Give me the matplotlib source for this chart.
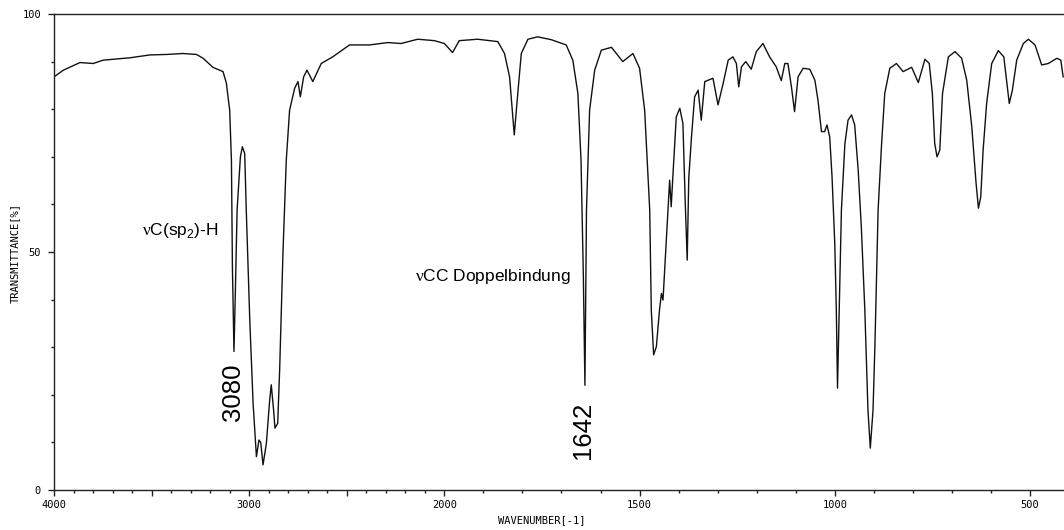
import numpy as np
import matplotlib
matplotlib.use("Agg")
import matplotlib.pyplot as plt

plt.rcParams['font.family'] = ['Liberation Sans', 'DejaVu Sans']
plt.rcParams['mathtext.fontset'] = 'custom'
plt.rcParams['mathtext.rm'] = 'Liberation Serif'
plt.rcParams['mathtext.sf'] = 'Liberation Sans'

# IR spectrum (wavenumber in cm-1, transmittance in %)
wavenumber = [4000, 3952, 3867, 3799, 3749, 3611, 3509, 3424, 3340, 3270,
              3236, 3186, 3134, 3117, 3100, 3091, 3086, 3078, 3071, 3062,
              3045, 3035, 3023, 3015, 2997, 2980, 2963, 2950, 2941, 2929,
              2912, 2895, 2887, 2875, 2868, 2854, 2844, 2827, 2810, 2793,
              2767, 2750, 2738, 2721, 2704, 2674, 2631, 2572, 2486, 2384,
              2290, 2222, 2137, 2051, 2000, 1979, 1962, 1915, 1863, 1846,
              1833, 1821, 1812, 1803, 1786, 1761, 1726, 1688, 1671, 1658,
              1650, 1644, 1640, 1636, 1628, 1615, 1598, 1572, 1543, 1517,
              1500, 1487, 1474, 1470, 1464, 1457, 1449, 1444, 1440, 1432,
              1423, 1419, 1415, 1406, 1397, 1389, 1383, 1378, 1374, 1367,
              1359, 1350, 1342, 1333, 1312, 1299, 1286, 1273, 1261, 1252,
              1246, 1239, 1228, 1214, 1201, 1184, 1167, 1150, 1137, 1128,
              1120, 1111, 1103, 1094, 1081, 1064, 1051, 1043, 1034, 1026,
              1020, 1013, 1007, 1000, 996, 993, 989, 983, 974, 966,
              957, 949, 940, 932, 923, 915, 909, 902, 897, 889,
              880, 872, 859, 842, 825, 803, 786, 769, 758, 750,
              744, 738, 731, 724, 709, 692, 675, 662, 649, 638,
              632, 626, 620, 611, 598, 581, 567, 560, 553, 545,
              534, 517, 504, 487, 470, 453, 431, 421, 415]
transmittance = [86.8, 88.2, 89.8, 89.6, 90.3, 90.8, 91.4, 91.5, 91.7, 91.5,
                 90.7, 88.8, 87.9, 85.5, 79.8, 69.3, 46.9, 29.1, 41.4, 58.8,
                 70.0, 72.1, 70.7, 58.8, 35.7, 18.2, 7.0, 10.5, 10.0, 5.3,
                 9.8, 18.9, 22.1, 16.8, 13.0, 14.0, 25.2, 49.8, 69.3, 79.8,
                 84.4, 85.8, 82.6, 86.8, 88.2, 85.8, 89.6, 91.0, 93.5, 93.5,
                 94.0, 93.8, 94.7, 94.4, 93.8, 91.9, 94.4, 94.7, 94.2, 91.7,
                 86.8, 74.6, 83.3, 91.7, 94.7, 95.2, 94.6, 93.5, 90.3, 83.3,
                 69.3, 44.8, 22.0, 58.8, 79.8, 88.2, 92.4, 93.0, 90.0, 91.7,
                 88.6, 79.8, 58.8, 37.8, 28.4, 30.1, 37.8, 41.3, 39.9, 51.9,
                 65.1, 59.5, 65.5, 78.4, 80.2, 77.0, 60.3, 48.3, 65.5, 74.2,
                 82.6, 84.0, 77.7, 85.8, 86.5, 80.9, 85.4, 90.3, 91.0, 89.6,
                 84.7, 88.9, 90.0, 88.4, 92.1, 93.8, 91.0, 88.9, 86.0, 89.6,
                 89.6, 84.7, 79.5, 86.8, 88.6, 88.4, 86.1, 81.9, 75.3, 75.3,
                 76.7, 74.2, 65.8, 51.8, 37.8, 21.4, 36.4, 58.8, 72.8, 77.7,
                 78.8, 76.7, 67.2, 55.3, 37.8, 16.8, 8.8, 16.8, 30.8, 58.8,
                 72.8, 83.3, 88.6, 89.6, 87.9, 88.8, 85.6, 90.5, 89.6, 83.3,
                 72.8, 70.0, 71.4, 83.3, 91.0, 92.1, 90.7, 86.1, 76.3, 64.4,
                 59.2, 61.6, 71.4, 81.2, 89.6, 92.3, 91.0, 86.1, 81.2, 84.0,
                 90.3, 93.8, 94.7, 93.5, 89.3, 89.6, 90.7, 90.3, 86.8]

peak_labels = ["3080", "1642"]
peak_pos = [3084, 1644]
peak_y = [20.5, 12.6]

band_labels = [r"$\mathrm{\nu}$C(sp$_{\mathsf{2}}$)-H", r"$\mathrm{\nu}$CC Doppelbindung"]
band_pos = [3551, 2153]
band_y = [54.6, 44.8]

x_major = [4000, 3500, 3000, 2500, 2000, 1500, 1000, 500]
x_major_labels = ["4000", "", "3000", "", "2000", "1500", "1000", "500"]
y_major = [0, 50, 100]


# spectrometer axis: scale halves above 2000 cm-1
def fwd(w):
    w = np.asarray(w, dtype=float)
    return np.where(w > 2000, 2000 + (w - 2000) / 2, w)


def inv(u):
    u = np.asarray(u, dtype=float)
    return np.where(u > 2000, 2000 + (u - 2000) * 2, u)


fig = plt.figure(figsize=(10.64, 5.30), dpi=100)
ax = fig.add_axes([54 / 1064, 40 / 530, 1015 / 1064, 476 / 530])
ax.set_xscale('function', functions=(fwd, inv))
ax.plot(wavenumber, transmittance, color='#111111', lw=1.0)
ax.set_xlim(4000, 400)
ax.set_ylim(0, 100)

ax.set_xticks(x_major)
ax.set_xticklabels(x_major_labels)
ax.set_xticks(np.arange(400, 4001, 100), minor=True)
ax.set_yticks(y_major)
ax.set_yticklabels([str(v) for v in y_major])
ax.set_yticks(np.arange(0, 101, 10), minor=True)

ax.tick_params(which='major', direction='out', length=4.3, width=1.0,
               color='#222222', labelsize=7.5, pad=3)
ax.tick_params(which='minor', direction='out', length=2.2, width=1.0,
               color='#222222')
ax.tick_params(axis='y', which='major', pad=5)
for lab in ax.get_xticklabels() + ax.get_yticklabels():
    lab.set_family('DejaVu Sans Mono')

ax.spines['right'].set_visible(False)
for s in ['left', 'top', 'bottom']:
    ax.spines[s].set_linewidth(1.0)
    ax.spines[s].set_color('#222222')

fig.text(542 / 1064, 1 - 520 / 530, "WAVENUMBER[-1]", ha='center', va='center',
         family='DejaVu Sans Mono', fontsize=7.5)
fig.text(15 / 1064, 1 - 253 / 530, "TRANSMITTANCE[%]", ha='center', va='center',
         rotation=90, family='DejaVu Sans Mono', fontsize=7.5)

for lab, px, py in zip(peak_labels, peak_pos, peak_y):
    ax.text(px, py, lab, rotation=90, ha='center', va='center', fontsize=18.5)
for lab, px, py in zip(band_labels, band_pos, band_y):
    ax.text(px, py, lab, ha='left', va='center', fontsize=12.5)

fig.savefig("out.png", dpi=100)
